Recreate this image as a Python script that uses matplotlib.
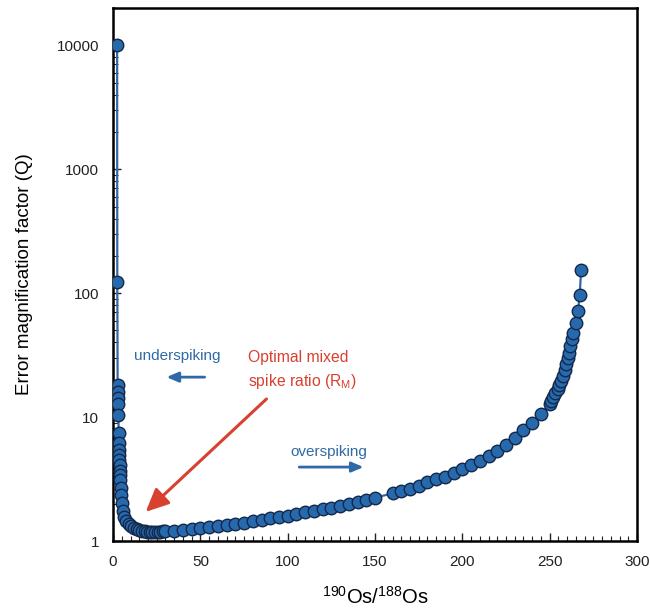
import matplotlib
matplotlib.use('Agg')
import matplotlib.pyplot as plt
from matplotlib.ticker import FixedLocator, MultipleLocator, LogLocator, NullFormatter

plt.rcParams['font.family'] = ['Liberation Sans', 'DejaVu Sans']

# 190Os/188Os of the mixture and error magnification factor Q
ratio = [2.3, 2.4, 2.6, 2.7, 2.8, 2.9, 3.0, 3.2, 3.3, 3.4, 3.5, 3.6, 3.7, 3.8, 3.9,
         4.0, 4.3, 4.6, 5.0, 5.6, 6.5, 7.5, 9.0, 10.5, 12.0, 13.5, 15.0, 16.5, 18.0,
         19.5, 21.0, 22.5, 24.0, 25.5, 27.0, 28.5, 30, 35, 40, 45, 50, 55, 60, 65,
         70, 75, 80, 85, 90, 95, 100, 105, 110, 115, 120, 125, 130, 135, 140, 145,
         150, 160, 165, 170, 175, 180, 185, 190, 195, 200, 205, 210, 215, 220, 225,
         230, 235, 240, 245, 250, 251, 252, 253, 254.5, 255.5, 256.5, 257.5, 258.5,
         259.5, 260.5, 261.2, 261.8, 262.6, 263.5, 265, 266.2, 267.2, 268]
q_factor = [10000, 123, 18.1, 15.9, 14.2, 12.7, 10.4, 7.4, 6.2, 5.4, 4.9, 4.5, 4.1, 3.7,
            3.4, 3.1, 2.7, 2.35, 2.02, 1.75, 1.55, 1.44, 1.37, 1.32, 1.28, 1.25, 1.23,
            1.21, 1.20, 1.19, 1.19, 1.19, 1.19, 1.19, 1.19, 1.20, 1.20, 1.21, 1.23,
            1.25, 1.27, 1.29, 1.32, 1.35, 1.38, 1.41, 1.45, 1.48, 1.52, 1.56, 1.60,
            1.65, 1.70, 1.75, 1.80, 1.86, 1.92, 1.99, 2.06, 2.15, 2.24, 2.42, 2.52,
            2.65, 2.80, 2.97, 3.14, 3.30, 3.52, 3.78, 4.10, 4.45, 4.85, 5.30, 5.90,
            6.80, 7.80, 8.90, 10.6, 12.7, 13.5, 14.4, 15.5, 16.7, 18.0, 19.5, 21.5,
            24.0, 27.0, 30.0, 33.0, 37.5, 42.5, 48, 57, 72, 97, 153]

y_ticks = [1, 10, 100, 1000, 10000]
x_ticks = [0, 50, 100, 150, 200, 250, 300]

fig = plt.figure(figsize=(6.5, 6.12), dpi=100)
ax = fig.add_axes([0.174, 0.116, 0.806, 0.871])

ax.plot(ratio, q_factor, '-', color='#3566a6', lw=1.6, zorder=2)
ax.plot(ratio, q_factor, 'o', ms=9, mfc='#2669ad', mec='#14284a', mew=1.0, zorder=3)

ax.set_yscale('log')
ax.set_xlim(0, 300)
ax.set_ylim(1, 2e4)
ax.yaxis.set_major_locator(FixedLocator(y_ticks))
ax.set_yticklabels([str(t) for t in y_ticks])
ax.yaxis.set_minor_locator(LogLocator(base=10, subs=range(2, 10)))
ax.yaxis.set_minor_formatter(NullFormatter())
ax.xaxis.set_major_locator(FixedLocator(x_ticks))
ax.xaxis.set_minor_locator(MultipleLocator(5))

ax.tick_params(which='both', direction='in', labelsize=11, colors='#222222')
ax.tick_params(which='major', length=6, width=1.0, pad=10)
ax.tick_params(which='minor', length=3.5, width=0.8)
for s in ax.spines.values():
    s.set_linewidth(1.8)

ax.set_ylabel('Error magnification factor (Q)', fontsize=13.5, labelpad=17)
ax.set_xlabel(r'$\mathregular{^{190}Os/^{188}Os}$', fontsize=14.5, labelpad=12)

blue = '#2f6aa6'
red = '#d8402f'
ax.text(11.7, 31, 'underspiking', color=blue, fontsize=11, va='center')
ax.annotate('', xy=(29, 21), xytext=(54, 21),
            arrowprops=dict(arrowstyle='-|>,head_length=0.7,head_width=0.3', color=blue, lw=2))
ax.text(101.7, 5.2, 'overspiking', color=blue, fontsize=11, va='center')
ax.annotate('', xy=(145, 3.95), xytext=(105, 3.95),
            arrowprops=dict(arrowstyle='-|>,head_length=0.7,head_width=0.3', color=blue, lw=2))
ax.text(77, 30.5, 'Optimal mixed', color=red, fontsize=11.3, va='center')
ax.text(77, 19.2, r'spike ratio (R$_\mathregular{M}$)', color=red, fontsize=11.3, va='center')
ax.annotate('', xy=(17.5, 1.66), xytext=(89, 14.5),
            arrowprops=dict(arrowstyle='-|>,head_length=1.4,head_width=0.65', color=red, lw=2.2))

fig.savefig('out.png', dpi=100)
